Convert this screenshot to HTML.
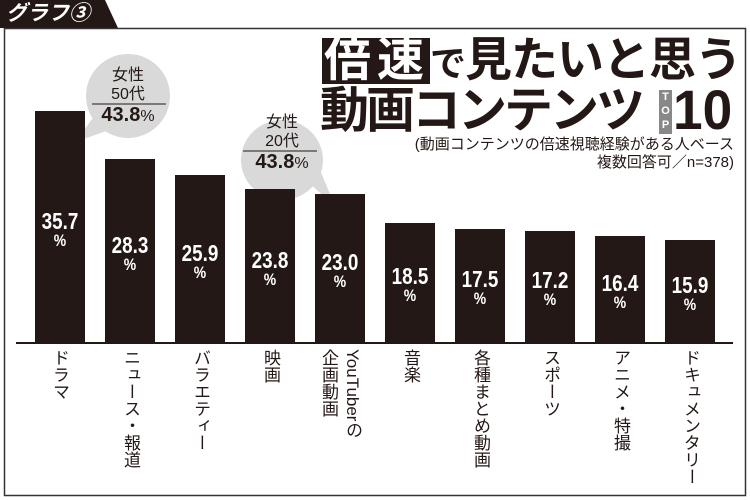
<!DOCTYPE html><html><head><meta charset="utf-8"><style>
body{margin:0;width:750px;height:500px;background:#fff;position:relative;overflow:hidden;font-family:"Liberation Sans","Noto Sans CJK JP",sans-serif;color:#231815}
.a{position:absolute}
.bar{position:absolute;background:#231815;width:50px;bottom:157px}
.v{position:absolute;width:50px;text-align:center;color:#fff;font-weight:bold;font-size:23px;line-height:19px;transform:scaleX(.82)}
.v span{font-size:17px;display:block}
.lb{position:absolute;top:349px;writing-mode:vertical-rl;font-size:17px;line-height:24px;letter-spacing:0}
.bub{position:absolute;text-align:center;font-size:16px;line-height:19px}
</style></head><body>
<svg class="a" style="left:0;top:0" width="750" height="500">
<polygon points="0,0 105,0 118,28 0,28" fill="#231815"/>
<rect x="4.5" y="28.5" width="741" height="467" fill="none" stroke="#333" stroke-width="1.5"/>
<line x1="16" y1="343" x2="733" y2="343" stroke="#231815" stroke-width="2"/>
<ellipse cx="128" cy="96" rx="42" ry="42" fill="#d9d9d9"/>
<polygon points="95,115 115,128 75,142" fill="#d9d9d9"/>
<ellipse cx="282" cy="160" rx="41" ry="40" fill="#d9d9d9"/>
<polygon points="300,175 320,170 335,206" fill="#d9d9d9"/>
<line x1="92" y1="104" x2="166" y2="104" stroke="#231815" stroke-width="1"/>
<line x1="243" y1="151" x2="317" y2="151" stroke="#231815" stroke-width="1"/>
<rect x="322" y="38" width="108" height="46" fill="#231815"/>
<rect x="659" y="90" width="13" height="44" fill="#888"/>
</svg>
<div class="a" style="left:6px;top:1px;color:#fff;font-weight:bold;font-style:italic;font-size:21px;line-height:26px">グラフ③</div>
<div class="bub" style="left:88px;top:66px;width:80px">女性<br>50代</div>
<div class="bub" style="left:88px;top:106px;width:80px;font-weight:bold;font-size:20px">43.8<span style="font-weight:normal;font-size:16px">%</span></div>
<div class="bub" style="left:242px;top:113px;width:80px">女性<br>20代</div>
<div class="bub" style="left:242px;top:153px;width:80px;font-weight:bold;font-size:20px">43.8<span style="font-weight:normal;font-size:16px">%</span></div>
<div class="a" style="left:324px;top:34px;font-size:47px;font-weight:bold;line-height:52px;white-space:nowrap;letter-spacing:-1px"><span style="color:#fff;letter-spacing:6px">倍速</span><span style="font-size:36px">で</span>見たいと思う</div>
<div class="a" style="left:320px;top:84px;font-size:49px;font-weight:bold;line-height:54px;white-space:nowrap;letter-spacing:-3px">動画コンテンツ</div>
<div class="a" style="left:659px;top:90px;width:13px;color:#fff;font-size:11px;font-weight:bold;line-height:14px;text-align:center">T<br>O<br>P</div>
<div class="a" style="left:673px;top:80px;font-size:56px;font-weight:bold;line-height:60px;transform:scaleX(.95);transform-origin:left">10</div>
<div class="a" style="right:16px;top:136px;font-size:15px;line-height:18px;text-align:right;white-space:nowrap">(動画コンテンツの倍速視聴経験がある人ベース<br>複数回答可／n=378)</div>

<div class="bar" style="left:35px;height:232px"></div>
<div class="bar" style="left:105px;height:184px"></div>
<div class="bar" style="left:175px;height:168px"></div>
<div class="bar" style="left:245px;height:154px"></div>
<div class="bar" style="left:315px;height:149px"></div>
<div class="bar" style="left:385px;height:120px"></div>
<div class="bar" style="left:455px;height:114px"></div>
<div class="bar" style="left:525px;height:112px"></div>
<div class="bar" style="left:595px;height:107px"></div>
<div class="bar" style="left:665px;height:103px"></div>

<div class="v" style="left:35px;top:212px">35.7<span>%</span></div>
<div class="v" style="left:105px;top:236px">28.3<span>%</span></div>
<div class="v" style="left:175px;top:244px">25.9<span>%</span></div>
<div class="v" style="left:245px;top:251px">23.8<span>%</span></div>
<div class="v" style="left:315px;top:253px">23.0<span>%</span></div>
<div class="v" style="left:385px;top:267px">18.5<span>%</span></div>
<div class="v" style="left:455px;top:270px">17.5<span>%</span></div>
<div class="v" style="left:525px;top:271px">17.2<span>%</span></div>
<div class="v" style="left:595px;top:274px">16.4<span>%</span></div>
<div class="v" style="left:665px;top:276px">15.9<span>%</span></div>

<div class="lb" style="left:47px">ドラマ</div>
<div class="lb" style="left:118px">ニュース・報道</div>
<div class="lb" style="left:188px">バラエティー</div>
<div class="lb" style="left:258px">映画</div>
<div class="lb" style="left:316px;width:48px">YouTuberの<br>企画動画</div>
<div class="lb" style="left:398px">音楽</div>
<div class="lb" style="left:468px">各種まとめ動画</div>
<div class="lb" style="left:538px">スポーツ</div>
<div class="lb" style="left:608px">アニメ・特撮</div>
<div class="lb" style="left:678px">ドキュメンタリー</div>
</body></html>
